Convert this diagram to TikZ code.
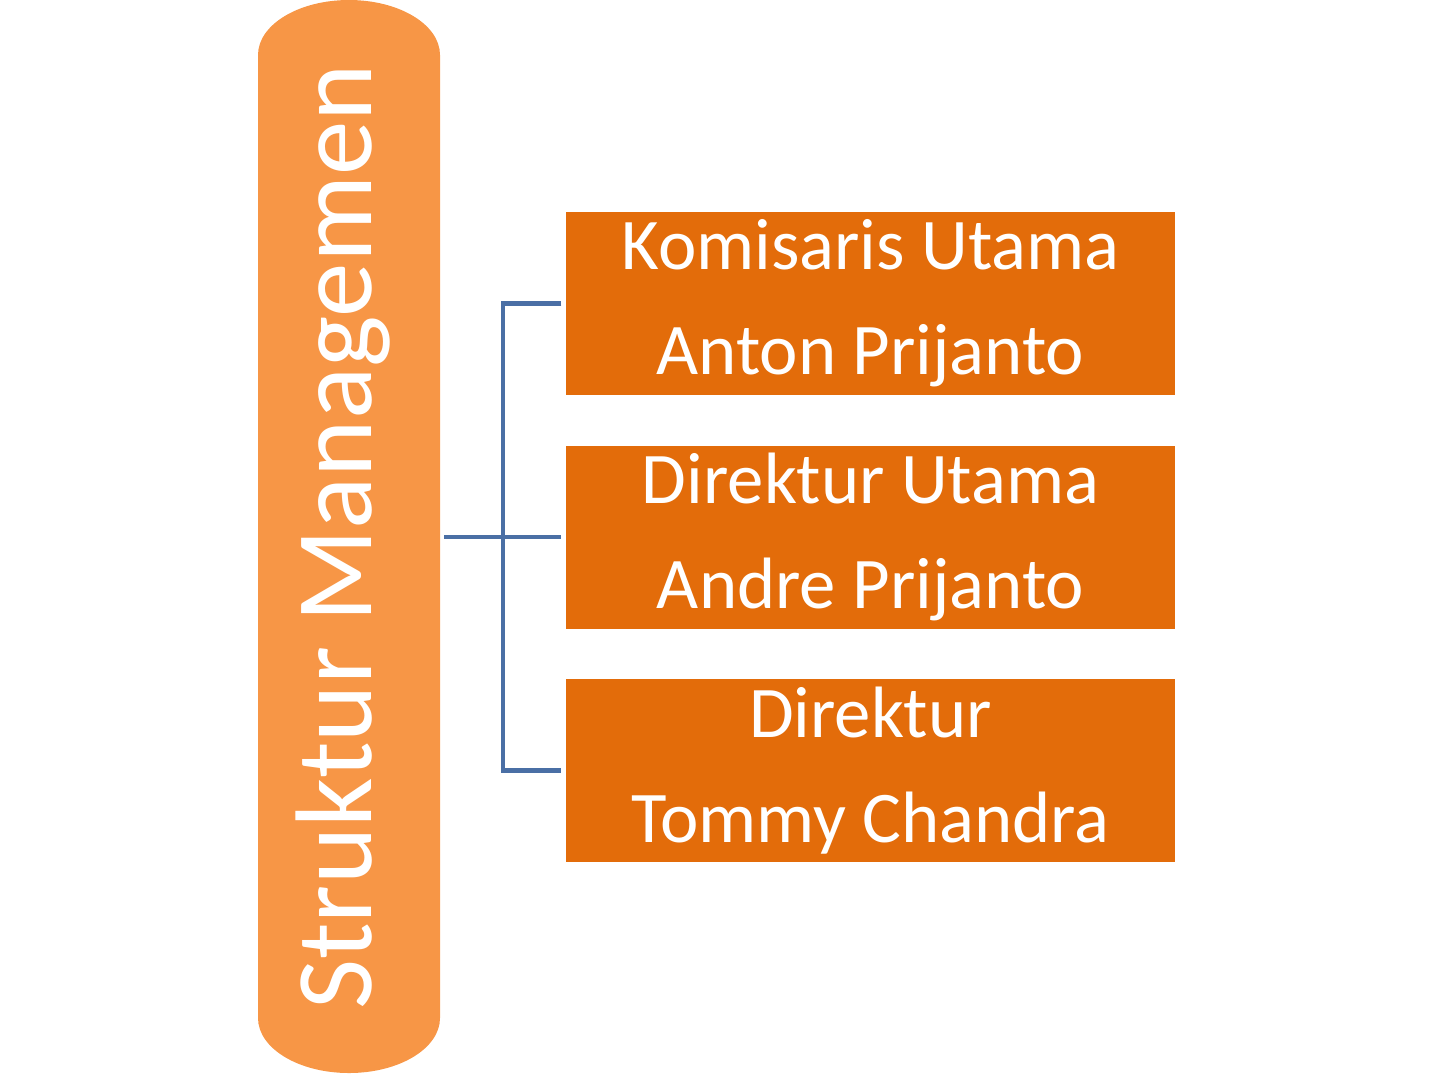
\documentclass[tikz,border=0pt]{standalone}
\usepackage{fontspec}
\setmainfont{Carlito}
\usepackage{tikz}
\definecolor{lightorange}{HTML}{F79646}
\definecolor{darkorange}{HTML}{E36C0A}
\definecolor{linkblue}{HTML}{4A6FA5}

\begin{document}
\begin{tikzpicture}
                \tikzset{person/.style = {fill=darkorange,text=white,minimum width=6.09cm,minimum height=1.83cm,
                    align=center,inner sep=0pt,font=\fontsize{20.7}{29.9}\selectfont}}
                \tikzset{link/.style = {draw=linkblue,line width=1.3pt}}
                \useasboundingbox (0,0) rectangle (14.32,-10.73);
                % title bar
                \fill[lightorange] (2.58,-0.55) arc[x radius=0.91,y radius=0.55,start angle=180,end angle=0]
                    -- (4.40,-10.18) arc[x radius=0.91,y radius=0.55,start angle=0,end angle=-180] -- cycle;
                \node[text=white,rotate=90,font=\fontsize{31}{36}\selectfont] (title) at (3.43,-5.37) {Struktur Managemen};
                % boxes
                \node[person] (komut) at (8.705,-3.035) {Komisaris Utama\\Anton Prijanto};
                \node[person] (dirut) at (8.705,-5.37) {Direktur Utama\\Andre Prijanto};
                \node[person] (dir) at (8.705,-7.705) {Direktur\\Tommy Chandra};
                \coordinate (hub) at (4.44,-5.37);
                \coordinate (bus) at (5.03,-5.37);

                % edges
                \draw[link] (hub) -- ([xshift=-0.04cm]dirut.west);
                \draw[link] ([xshift=-0.04cm]komut.west) -| (bus) |- ([xshift=-0.04cm]dir.west);
            \end{tikzpicture}
\end{document}
